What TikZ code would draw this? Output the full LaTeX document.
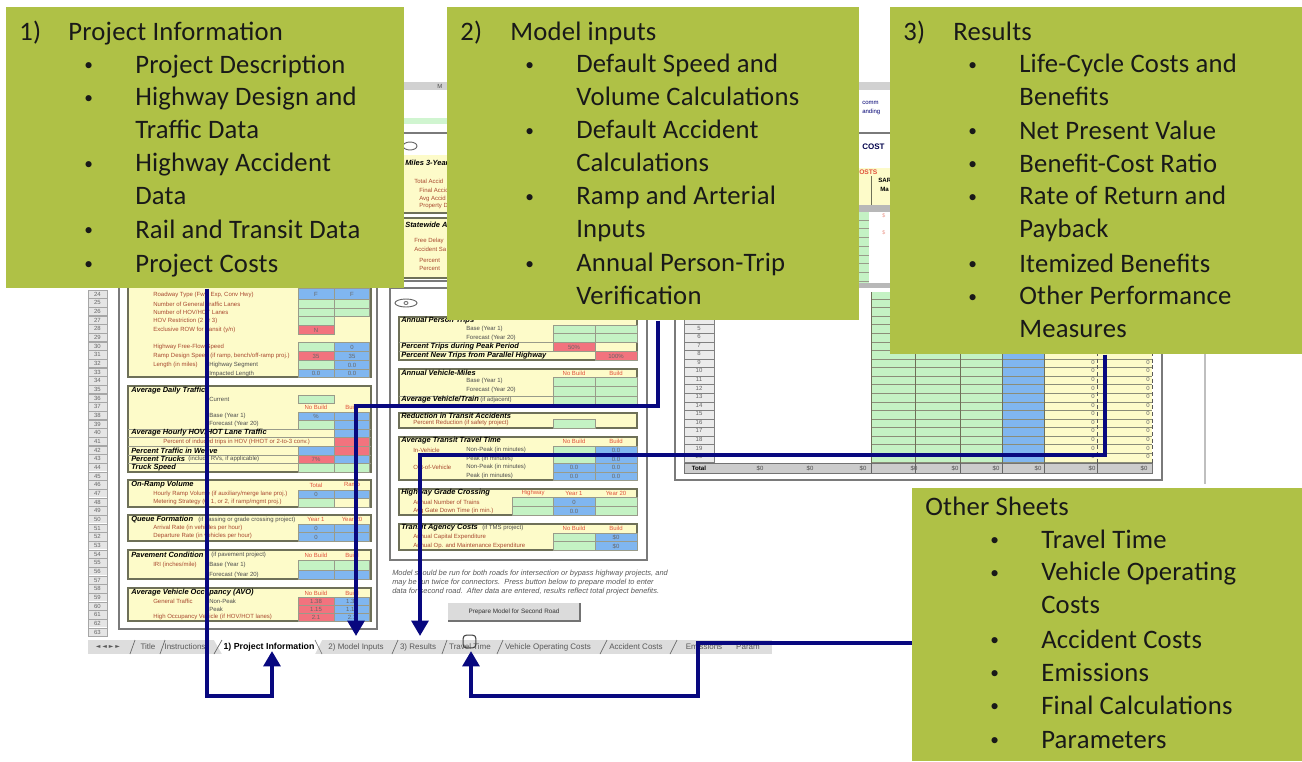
\documentclass[tikz,border=0pt]{standalone}
\usepackage{fontspec}
\setmainfont{Carlito}[LetterSpace=0.9]
\newfontfamily\tinyf{Liberation Sans}
\newfontfamily\navf{DejaVu Sans}
\usetikzlibrary{arrows.meta}
\definecolor{boxgreen}{HTML}{AFC146}
\definecolor{navy}{HTML}{08087F}
\definecolor{cg}{HTML}{C4F2C4}
\definecolor{cb}{HTML}{80B6F0}
\definecolor{cr}{HTML}{F2737E}
\definecolor{cy}{HTML}{FDFBC9}
\definecolor{frameg}{HTML}{7A7A7A}
\definecolor{secg}{HTML}{6E7058}
\definecolor{tabg}{HTML}{DDDDDD}
\definecolor{redtxt}{HTML}{A8482F}
\definecolor{hdrred}{HTML}{E0503A}
\newcounter{tk}
\newcommand{\tkname}{tx\arabic{tk}}
\tikzset{
  greenbox/.style={fill=boxgreen,draw=none,inner sep=0pt,anchor=north west},
  boxtext/.style={anchor=north west,inner sep=0pt,align=left,text=black!90,
    font=\fontsize{20}{24.75}\selectfont,execute at begin node=\strut},
  link/.style={draw=navy,line width=3.6pt,miter limit=10},
  linkhead/.style={link,-{Triangle[length=11.5pt,width=12.5pt]}},
  small/.style={inner sep=0pt,font=\tinyf\fontsize{4.5}{5}\selectfont},
  label/.style={small,anchor=west,text=redtxt},
  plain/.style={small,anchor=west,text=black!70},
  head/.style={small,anchor=west,text=black,font=\tinyf\fontsize{5.6}{6}\selectfont\bfseries\itshape},
  colhead/.style={small,text=hdrred},
  value/.style={small,text=black!60},
  note/.style={small,anchor=west,text=black!65,font=\tinyf\fontsize{5.6}{6}\selectfont\itshape},
  tabtext/.style={small,text=black!65,font=\tinyf\fontsize{6}{7}\selectfont},
  panel/.style={draw=frameg,line width=1.1pt,fill=white},
  section/.style={draw=secg,line width=.8pt,fill=cy},
  cellline/.style={draw=secg!70,line width=.35pt},
}
\newcommand{\cell}[5]{\fill[#1] (#2,#3) rectangle (#4,#5);\draw[cellline] (#2,#3) rectangle (#4,#5);}
\newcommand{\tl}[3]{\stepcounter{tk}\node[label] (\tkname) at (#1,#2) {#3};}
\newcommand{\tp}[3]{\stepcounter{tk}\node[plain] (\tkname) at (#1,#2) {#3};}
\newcommand{\tb}[3]{\stepcounter{tk}\node[head] (\tkname) at (#1,#2) {#3};}
\newcommand{\tc}[3]{\stepcounter{tk}\node[colhead] (\tkname) at (#1,#2) {#3};}
\newcommand{\tv}[3]{\stepcounter{tk}\node[value] (\tkname) at (#1,#2) {#3};}
\newcommand{\rowline}[3]{\draw[cellline] (#1,#3) -- (#2,#3);}
\newcommand{\bul}{\raisebox{2.3pt}{\fontsize{13}{13}\selectfont •}}
% bullet items: x of bullet, x of text, centre y of first line, text (bitemm: two lines)
\newcommand{\bitem}[4]{\stepcounter{tk}\node[boxtext] (\tkname) at (#1,#3-14) {\bul};\stepcounter{tk}\node[boxtext] (\tkname) at (#2,#3-14) {#4};}
\newcommand{\bitemm}[4]{\stepcounter{tk}\node[boxtext] (\tkname) at (#1,#3-14) {\bul};\stepcounter{tk}\node[boxtext] (\tkname) at (#2,#3-10) {#4};}
\begin{document}
\begin{tikzpicture}[x=0.75pt,y=-0.75pt]
\useasboundingbox (0,0) rectangle (1302,761);
\fill[white] (0,0) rectangle (1302,761);

% ---------- top of the sheet, seen between the boxes ----------
\fill[black!18] (404,82) rectangle (890,90);
\tp{437}{86}{M}
\fill[cg!80] (404,118) rectangle (447,124);
\draw[frameg,line width=1.1pt] (404,133) -- (447,133);
\draw[frameg,line width=1.1pt] (859,133) -- (890,133);
\draw[black!60,line width=.7pt] (410,146) ellipse (7 and 4);
\fill[cy] (404,155) rectangle (447,213);
\tb{405}{163}{Miles 3-Year}
\tl{414}{181}{Total Accid}
\tl{419}{190}{Final Accid}
\tl{419}{199}{Avg Accid}
\tl{419}{206}{Property D}
\draw[secg,line width=.8pt] (404,213) -- (447,213);
\fill[cy] (404,218) rectangle (447,278);
\draw[secg,line width=.8pt] (404,218) -- (447,218);
\tb{405}{225}{Statewide Ac}
\tl{414}{241}{Free Delay}
\tl{414}{249}{Accident Sa}
\tl{419}{260}{Percent}
\tl{419}{268}{Percent}
\draw[secg,line width=.8pt] (404,278) -- (447,278);
\draw[frameg,line width=1.1pt] (404,281) -- (447,281);
% top of results sheet
\node[small,anchor=west,text=blue!45!black] (topa) at (862,103) {comm};
\node[small,anchor=west,text=blue!45!black] (topb) at (862,112) {anding};
\node[small,anchor=west,text=blue!30!black,font=\tinyf\fontsize{6}{7}\selectfont\bfseries] (topc) at (862,147) {COST};
\fill[cy] (859,168) rectangle (890,205);
\node[small,anchor=west,text=hdrred,font=\tinyf\fontsize{5}{6}\selectfont\bfseries] (topd) at (859,172) {OSTS};
\draw[secg,line width=.6pt] (871,176) -- (871,205);
\node[small,anchor=west,font=\tinyf\fontsize{4.6}{5}\selectfont\bfseries] (tope) at (878,180) {SAR};
\node[small,anchor=west,font=\tinyf\fontsize{4.6}{5}\selectfont\bfseries] (topf) at (880,189) {Ma};
\fill[black!28] (859,205) rectangle (890,212);
\fill[cg] (859,212) rectangle (869,283);
\foreach \k in {0,...,7}{\draw[cellline] (859,{220+\k*8.7}) -- (869,{220+\k*8.7});}
\fill[black!28] (859,283) rectangle (890,292);
\node[small,anchor=west,text=hdrred!60,font=\tinyf\fontsize{4}{5}\selectfont] (topg) at (882,216) {\$};
\node[small,anchor=west,text=hdrred!60,font=\tinyf\fontsize{4}{5}\selectfont] (toph) at (882,233) {\$};

% ---------- row numbers ----------
\foreach \n in {24,...,63}{
  \pgfmathsetmacro{\yy}{294+(\n-24)*8.67}
  \fill[black!10] (88,\yy-4) rectangle (107,\yy+4);
  \draw[black!35,line width=.3pt] (88,\yy-4.3) rectangle (107,\yy+4.3);
  \node[small,text=black!60] (row\n) at (97.5,\yy) {\n};
}

% ---------- left panel ----------
\draw[panel] (119,280) rectangle (377,629);
\draw[section] (128,280) rectangle (371,377);
\cell{cb}{298}{288}{334}{299}\cell{cb}{334}{288}{369}{299}
\cell{cg}{298}{299}{334}{308}\cell{cg}{334}{299}{369}{308}
\cell{cg}{298}{308}{334}{316}\cell{cg}{334}{308}{369}{316}
\cell{cg}{298}{316}{334}{325}
\cell{cr}{298}{325}{334}{334}
\cell{cg}{298}{342}{334}{351}\cell{cb}{334}{342}{369}{351}
\cell{cr}{298}{351}{334}{360}\cell{cb}{334}{351}{369}{360}
\cell{cg}{298}{360}{334}{369}\cell{cb}{334}{360}{369}{369}
\cell{cb}{298}{369}{334}{377}\cell{cb}{334}{369}{369}{377}
\tl{153}{295}{Roadway Type (Fwy, Exp, Conv Hwy)}
\tl{153}{304}{Number of General Traffic Lanes}
\tl{153}{312}{Number of HOV/HOT Lanes}
\tl{153}{321}{HOV Restriction (2 or 3)}
\tl{153}{330}{Exclusive ROW for transit (y/n)}
\tl{153}{347}{Highway Free-Flow Speed}
\tl{153}{356}{Ramp Design Speed (if ramp, bench/off-ramp proj.)}
\tl{153}{365}{Length (in miles)}
\tp{209}{365}{Highway Segment}
\tp{209}{374}{Impacted Length}
\tv{316}{294}{F}\tv{352}{294}{F}\tv{316}{330}{N}\tv{352}{347}{0}\tv{316}{356}{35}\tv{352}{356}{35}\tv{352}{365}{0.0}\tv{316}{373}{0.0}\tv{352}{373}{0.0}

\draw[section] (128,386) rectangle (371,472);
\tb{131}{391}{Average Daily Traffic}
\tp{209}{399}{Current}
\cell{cg}{298}{395}{334}{403}
\tc{316}{407}{No Build}\tc{352}{407}{Build}
\cell{cb}{298}{412}{334}{420}\cell{cb}{334}{412}{369}{420}
\cell{cg}{298}{420}{334}{429}\cell{cb}{334}{420}{369}{429}
\tp{209}{416}{Base (Year 1)}
\tp{209}{424}{Forecast (Year 20)}
\rowline{128}{371}{429}
\cell{cb}{334}{429}{369}{437}
\rowline{128}{371}{437}
\tb{131}{433}{Average Hourly HOV/HOT Lane Traffic}
\cell{cr}{334}{437}{369}{446}
\tl{163}{442}{Percent of induced trips in HOV (HHOT or 2-to-3 conv.)}
\rowline{128}{371}{446}
\cell{cb}{298}{446}{334}{455}\cell{cr}{334}{446}{369}{455}
\tb{131}{451}{Percent Traffic in Weave}
\rowline{128}{371}{455}
\cell{cr}{298}{455}{334}{463}\cell{cb}{334}{455}{369}{463}
\tb{131}{459}{Percent Trucks}
\tp{188}{459}{(include RVs, if applicable)}
\rowline{128}{371}{463}
\cell{cg}{298}{463}{334}{472}\cell{cg}{334}{463}{369}{472}
\tb{131}{468}{Truck Speed}
\tv{316}{459}{7\%}\tv{316}{416}{\%}

\draw[section] (128,480) rectangle (371,507);
\tb{131}{485}{On-Ramp Volume}
\tc{316}{485}{Total}\tc{352}{485}{Ramp}
\cell{cb}{298}{490}{334}{498}\cell{cb}{334}{490}{369}{498}
\cell{cg}{298}{498}{334}{507}\cell{cy}{334}{498}{369}{507}
\tl{153}{494}{Hourly Ramp Volume (if auxiliary/merge lane proj.)}
\tl{153}{502}{Metering Strategy (0, 1, or 2, if ramp/mgmt proj.)}
\tv{316}{494}{0}

\draw[section] (128,515) rectangle (371,541);
\tb{131}{520}{Queue Formation}
\tp{198}{520}{(if passing or grade crossing project)}
\tc{316}{519}{Year 1}\tc{352}{519}{Year 20}
\cell{cb}{298}{524}{334}{532}\cell{cb}{334}{524}{369}{532}
\cell{cb}{298}{532}{334}{541}\cell{cb}{334}{532}{369}{541}
\tl{153}{528}{Arrival Rate (in vehicles per hour)}
\tl{153}{536}{Departure Rate (in vehicles per hour)}
\tv{316}{528}{0}\tv{316}{537}{0}

\draw[section] (128,550) rectangle (371,579);
\tb{131}{555}{Pavement Condition}
\tp{211}{555}{(if pavement project)}
\tc{316}{555}{No Build}\tc{352}{555}{Build}
\tl{153}{565}{IRI (inches/mile)}
\tp{209}{565}{Base (Year 1)}
\tp{209}{575}{Forecast (Year 20)}
\cell{cg}{298}{560}{334}{570}\cell{cg}{334}{560}{369}{570}
\cell{cb}{298}{570}{334}{579}\cell{cb}{334}{570}{369}{579}

\draw[section] (128,588) rectangle (371,621);
\tb{131}{593}{Average Vehicle Occupancy (AVO)}
\tc{316}{593}{No Build}\tc{352}{593}{Build}
\tl{153}{601}{General Traffic}
\tp{209}{601}{Non-Peak}
\tp{209}{609}{Peak}
\tl{153}{617}{High Occupancy Vehicle (if HOV/HOT lanes)}
\cell{cr}{298}{597}{334}{605}\cell{cb}{334}{597}{369}{605}
\cell{cr}{298}{605}{334}{613}\cell{cb}{334}{605}{369}{613}
\cell{cr}{298}{613}{334}{621}\cell{cb}{334}{613}{369}{621}
\tv{316}{601}{1.38}\tv{352}{601}{1.38}\tv{316}{609}{1.15}\tv{352}{609}{1.15}\tv{316}{617}{2.1}\tv{352}{617}{2.1}

% ---------- middle panel ----------
\draw[panel] (390,288) rectangle (647,560);
\draw[black!60,line width=.7pt] (406,303) ellipse (11 and 4);
\draw[black!60,line width=.6pt] (406,303) ellipse (2 and 1.5);
\draw[section] (399,317) rectangle (637,360);
\cell{cg}{553}{325}{595}{333}\cell{cg}{595}{325}{637}{333}
\cell{cg}{553}{333}{595}{342}\cell{cg}{595}{333}{637}{342}
\cell{cr}{553}{342}{595}{351}
\cell{cr}{595}{351}{637}{360}
\rowline{399}{637}{342}\rowline{399}{637}{351}
\tb{401}{321}{Annual Person Trips}
\tp{466}{329}{Base (Year 1)}
\tp{466}{338}{Forecast (Year 20)}
\tb{401}{347}{Percent Trips during Peak Period}
\tb{401}{356}{Percent New Trips from Parallel Highway}
\tv{574}{347}{50\%}\tv{616}{356}{100\%}

\draw[section] (399,369) rectangle (637,405);
\tb{401}{373}{Annual Vehicle-Miles}
\tc{574}{373}{No Build}\tc{616}{373}{Build}
\cell{cg}{553}{377}{595}{386}\cell{cg}{595}{377}{637}{386}
\cell{cg}{553}{386}{595}{396}\cell{cg}{595}{386}{637}{396}
\cell{cg}{553}{396}{595}{405}\cell{cg}{595}{396}{637}{405}
\rowline{399}{637}{396}
\tp{466}{381}{Base (Year 1)}
\tp{466}{390}{Forecast (Year 20)}
\tb{401}{400}{Average Vehicle/Train}
\tp{480}{400}{(if adjacent)}

\draw[section] (399,413) rectangle (637,428);
\tb{401}{416}{Reduction in Transit Accidents}
\tl{413}{423}{Percent Reduction (if safety project)}
\cell{cg}{553}{419}{595}{428}

\draw[section] (399,437) rectangle (637,480);
\tb{401}{441}{Average Transit Travel Time}
\tc{574}{441}{No Build}\tc{616}{441}{Build}
\cell{cg}{553}{446}{595}{455}\cell{cb}{595}{446}{637}{455}
\cell{cg}{553}{455}{595}{463}\cell{cb}{595}{455}{637}{463}
\cell{cb}{553}{463}{595}{472}\cell{cb}{595}{463}{637}{472}
\cell{cb}{553}{472}{595}{480}\cell{cb}{595}{472}{637}{480}
\tl{413}{450}{In-Vehicle}
\tl{413}{467}{Out-of-Vehicle}
\tp{466}{450}{Non-Peak (in minutes)}
\tp{466}{459}{Peak (in minutes)}
\tp{466}{467}{Non-Peak (in minutes)}
\tp{466}{476}{Peak (in minutes)}
\tv{616}{450}{0.0}\tv{616}{459}{0.0}\tv{574}{467}{0.0}\tv{616}{467}{0.0}\tv{574}{476}{0.0}\tv{616}{476}{0.0}

\draw[section] (399,489) rectangle (637,515);
\tb{401}{493}{Highway Grade Crossing}
\tc{533}{493}{Highway}\tc{574}{493}{Year 1}\tc{616}{493}{Year 20}
\cell{cg}{512}{497}{553}{506}\cell{cb}{553}{497}{595}{506}\cell{cg}{595}{497}{637}{506}
\cell{cg}{512}{506}{553}{515}\cell{cb}{553}{506}{595}{515}\cell{cg}{595}{506}{637}{515}
\tl{413}{502}{Annual Number of Trains}
\tl{413}{511}{Avg Gate Down Time (in min.)}
\tv{574}{502}{0}\tv{574}{511}{0.0}

\draw[section] (399,524) rectangle (637,550);
\tb{401}{528}{Transit Agency Costs}
\tp{482}{528}{(if TMS project)}
\tc{574}{528}{No Build}\tc{616}{528}{Build}
\cell{cg}{553}{533}{595}{541}\cell{cb}{595}{533}{637}{541}
\cell{cg}{553}{541}{595}{550}\cell{cb}{595}{541}{637}{550}
\tl{413}{537}{Annual Capital Expenditure}
\tl{413}{546}{Annual Op. and Maintenance Expenditure}
\tv{616}{537}{\$0}\tv{616}{546}{\$0}

\node[note] (note1) at (392,574) {Model should be run for both roads for intersection or bypass highway projects, and};
\node[note] (note2) at (392,583) {may be run twice for connectors.\ \ Press button below to prepare model to enter};
\node[note] (note3) at (392,592) {data for second road.\ \ After data are entered, results reflect total project benefits.};
\fill[black!14] (448,603) rectangle (580,621);
\draw[black!55,line width=.8pt] (580,603) -- (580,621) -- (448,621);
\node[small,text=black!80,font=\tinyf\fontsize{4.75}{6}\selectfont] (button) at (514,612) {Prepare Model for Second Road};

% ---------- right (results) panel ----------
\draw[panel] (675,288) -- (675,480) -- (1162,480) -- (1162,288);
\draw[black!25,line width=2pt] (1205,350) -- (1205,484);
\fill[cg] (871,292) rectangle (1002,463);
\fill[cb] (1002,292) rectangle (1044,463);
\fill[cy] (1044,292) rectangle (1152,463);
\fill[black!8] (684,292) rectangle (714,463);
\foreach \k in {0,...,19}{
  \pgfmathsetmacro{\yy}{299+\k*8.57}
  \draw[black!50,line width=.35pt] (684,\yy) -- (714,\yy);
  \draw[secg!80,line width=.35pt] (871,\yy) -- (1152,\yy);
}
\foreach \xx in {871,915,960,1002,1044}{\draw[secg,line width=.5pt] (\xx,292) -- (\xx,463);}
\foreach \xx in {1097,1152}{\draw[black!65,line width=.5pt,densely dashed] (\xx,292) -- (\xx,463);}
\draw[black!50,line width=.5pt] (684,292) -- (684,473) (714,292) -- (714,473);
\foreach \n in {5,...,20}{
  \pgfmathsetmacro{\yy}{328+(\n-5)*8.57}
  \node[small,text=black!60] (rn\n) at (699,\yy) {\n};
}
\foreach \n in {9,...,20}{
  \pgfmathsetmacro{\yy}{328+(\n-5)*8.57}
  \node[small,text=black!60] (za\n) at (1093,\yy) {0};
  \node[small,text=black!60] (zb\n) at (1148,\yy) {0};
}
\fill[black!20] (684,463) rectangle (1152,473);
\draw[black!55,line width=.5pt] (684,463) rectangle (1152,473);
\node[small,font=\tinyf\fontsize{4.6}{5}\selectfont\bfseries] (total) at (699,468) {Total};
\foreach \xx [count=\i] in {760,810,863,914,955,996,1038,1092,1144}{
  \node[small,text=black!70] (tot\i) at (\xx,468) {\$0};
}
\foreach \xx in {871,915,960,1002,1044,1097}{\draw[black!60,line width=.5pt] (\xx,463) -- (\xx,473);}

% ---------- tab bar ----------
\fill[tabg] (88,640) rectangle (772,654);
\fill[white] (214,640) -- (222,654) -- (315,654) -- (322,640) -- cycle;
\foreach \xa/\xb in {130/135,160/165,214/222,322/315,392/398,442/447,497/503,600/607,670/677}{\draw[black!60,line width=.5pt] (\xa,654) -- (\xb,640);}
\node[tabtext,font=\navf\fontsize{4.5}{6}\selectfont] (tabnav) at (108,647) {◄ ◄ ► ►};
\node[tabtext] (tabtitle) at (148,647) {Title};
\node[tabtext] (tabinstr) at (185,647) {Instructions};
\node[tabtext,text=black,font=\tinyf\fontsize{6.6}{7}\selectfont\bfseries] (tabinfo) at (269,647) {1) Project Information};
\node[tabtext] (tabinputs) at (356,647) {2) Model Inputs};
\node[tabtext] (tabresults) at (418,647) {3) Results};
\node[tabtext] (tabtravel) at (470,647) {Travel Time};
\node[tabtext] (tabvehicle) at (548,647) {Vehicle Operating Costs};
\node[tabtext] (tabaccident) at (636,647) {Accident Costs};
\node[tabtext] (tabemissions) at (704,647) {Emissions};
\node[tabtext] (tabmore) at (748,647) {Param};

\node[draw=black!75,line width=.8pt,rounded corners=2.5pt,minimum width=9.6pt,minimum height=9.6pt,inner sep=0pt] (tabmark) at (469.5,641.5) {};

% ---------- green boxes ----------
\node[greenbox,minimum width=298.5pt,minimum height=210.75pt] (info) at (6,7) {};
\node[greenbox,minimum width=309pt,minimum height=234.75pt] (inputs) at (447,7) {};
\node[greenbox,minimum width=309pt,minimum height=260.25pt] (results) at (890,7) {};
\node[greenbox,minimum width=292.5pt,minimum height=204.75pt] (other) at (912,488) {};

\node[boxtext] (n1) at (19,17) {1)};
\node[boxtext] (t1) at (68,17) {Project Information};
\bitem{84}{135}{64}{Project Description}
\bitemm{84}{135}{97}{Highway Design and\\Traffic Data}
\bitemm{84}{135}{163}{Highway Accident\\Data}
\bitem{84}{135}{229}{Rail and Transit Data}
\bitem{84}{135}{263}{Project Costs}

\node[boxtext] (n2) at (460,17) {2)};
\node[boxtext] (t2) at (510,17) {Model inputs};
\bitemm{525}{576}{64}{Default Speed and\\Volume Calculations}
\bitemm{525}{576}{130}{Default Accident\\Calculations}
\bitemm{525}{576}{196}{Ramp and Arterial\\Inputs}
\bitemm{525}{576}{263}{Annual Person-Trip\\Verification}

\node[boxtext] (n3) at (903,17) {3)};
\node[boxtext] (t3) at (953,17) {Results};
\bitemm{968}{1019}{64}{Life-Cycle Costs and\\Benefits}
\bitem{968}{1019}{130}{Net Present Value}
\bitem{968}{1019}{163}{Benefit-Cost Ratio}
\bitemm{968}{1019}{196}{Rate of Return and\\Payback}
\bitem{968}{1019}{263}{Itemized Benefits}
\bitemm{968}{1019}{296}{Other Performance\\Measures}

\node[boxtext] (t4) at (925,492) {Other Sheets};
\bitem{990}{1041}{539}{Travel Time}
\bitemm{990}{1041}{572}{Vehicle Operating\\Costs}
\bitem{990}{1041}{639}{Accident Costs}
\bitem{990}{1041}{672}{Emissions}
\bitem{990}{1041}{705}{Final Calculations}
\bitem{990}{1041}{739}{Parameters}

% ---------- connectors ----------
\coordinate (ia) at (207,288);
\coordinate (ib) at (207,696);
\coordinate (ic) at (272,696);
\coordinate (id) at (272,651);
\draw[linkhead] (info.south -| ia) -- (ib) -- (ic) -- (id);

\coordinate (ma) at (658,320);
\coordinate (mb) at (658,406);
\coordinate (mc) at (356,406);
\coordinate (md) at (356,636);
\draw[linkhead] (inputs.south -| ma) -- (mb) -- (mc) -- (md);

\coordinate (ra) at (1105,354);
\coordinate (rb) at (1105,455);
\coordinate (rc) at (420,455);
\coordinate (rd) at (420,636);
\draw[linkhead] (results.south -| ra) -- (rb) -- (rc) -- (rd);

\coordinate (oa) at (912,643);
\coordinate (ob) at (698,643);
\coordinate (oc) at (698,696);
\coordinate (od) at (471,696);
\coordinate (oe) at (471,651);
\draw[linkhead] (other.west |- oa) -- (ob) -- (oc) -- (od) -- (oe);
\end{tikzpicture}
\end{document}
